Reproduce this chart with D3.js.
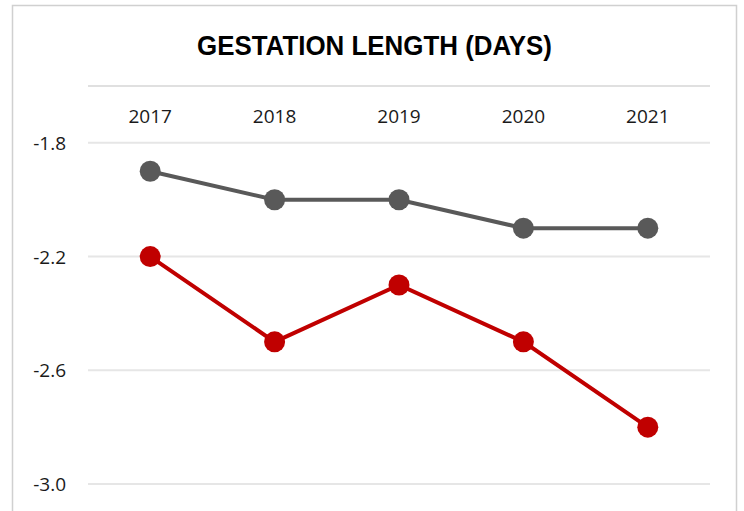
<!DOCTYPE html>
<html>
<head>
<meta charset="utf-8">
<script src="https://cdn.jsdelivr.net/npm/d3@7"></script>
<style>
  body { margin: 0; background: #fff; }
  svg { display: block; }
</style>
</head>
<body>
<div id="chart"></div>
<script>
const years = ['2017', '2018', '2019', '2020', '2021'];
const grayValues = [-1.9, -2.0, -2.0, -2.1, -2.1];
const redValues = [-2.2, -2.5, -2.3, -2.5, -2.8];
const yTicks = [-1.8, -2.2, -2.6, -3.0];

const width = 744;
const height = 511;

const svg = d3.select('#chart')
  .append('svg')
  .attr('width', width)
  .attr('height', height);

// outer frame
svg.append('path')
  .attr('d', `M12.5,${height} V5.5 H736.5 V${height}`)
  .attr('fill', 'none')
  .attr('stroke', '#d0d0d0')
  .attr('stroke-width', 1.5);

svg.append('text')
  .attr('x', 197)
  .attr('y', 55)
  .attr('textLength', 355)
  .attr('lengthAdjust', 'spacingAndGlyphs')
  .style('font-family', '"Liberation Sans", Arial, sans-serif')
  .style('font-weight', 'bold')
  .style('font-size', '28px')
  .style('fill', '#000')
  .text('GESTATION LENGTH (DAYS)');

const x = d3.scaleBand().domain(years).range([88, 710]);
const y = d3.scaleLinear().domain([-3.0, -1.6]).range([484, 86]);

// gridlines
svg.append('g')
  .selectAll('line')
  .data(yTicks)
  .join('line')
  .attr('x1', 88)
  .attr('x2', 710)
  .attr('y1', (d) => y(d))
  .attr('y2', (d) => y(d))
  .attr('stroke', '#e6e6e6')
  .attr('stroke-width', 2);

// category axis along the top
svg.append('line')
  .attr('x1', 88)
  .attr('x2', 710)
  .attr('y1', y(-1.6))
  .attr('y2', y(-1.6))
  .attr('stroke', '#e0e0e0')
  .attr('stroke-width', 2);

const labelFont = '"Open Sans", "Liberation Sans", sans-serif';

svg.append('g')
  .selectAll('text')
  .data(years)
  .join('text')
  .attr('x', (d) => x(d) + x.bandwidth() / 2)
  .attr('y', 123)
  .attr('text-anchor', 'middle')
  .style('font-family', labelFont)
  .style('font-size', '19px')
  .style('fill', '#1a1a1a')
  .text((d) => d);

svg.append('g')
  .selectAll('text')
  .data(yTicks)
  .join('text')
  .attr('x', 66)
  .attr('y', (d) => y(d) + 7)
  .attr('text-anchor', 'end')
  .style('font-family', labelFont)
  .style('font-size', '19px')
  .style('fill', '#1a1a1a')
  .text((d) => d3.format('.1f')(d).replace('−', '-'));

const line = d3.line()
  .x((d, i) => x(years[i]) + x.bandwidth() / 2)
  .y((d) => y(d));

const series = [
  { values: grayValues, color: '#595959' },
  { values: redValues, color: '#c00000' },
];

series.forEach((s) => {
  svg.append('path')
    .datum(s.values)
    .attr('d', line)
    .attr('fill', 'none')
    .attr('stroke', s.color)
    .attr('stroke-width', 4);

  svg.append('g')
    .selectAll('circle')
    .data(s.values)
    .join('circle')
    .attr('cx', (d, i) => x(years[i]) + x.bandwidth() / 2)
    .attr('cy', (d) => y(d))
    .attr('r', 10.5)
    .attr('fill', s.color);
});
</script>
</body>
</html>
